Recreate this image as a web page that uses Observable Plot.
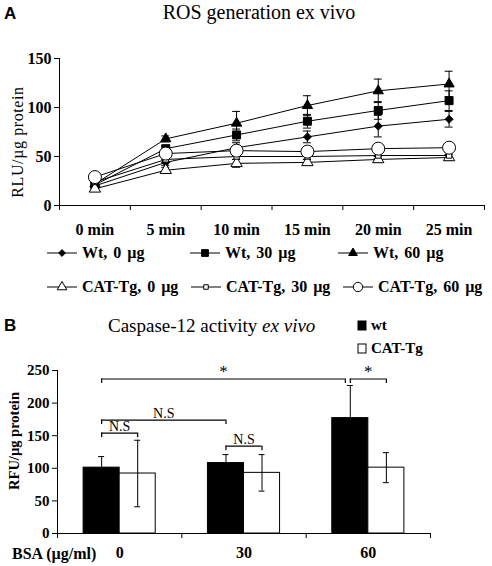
<!DOCTYPE html>
<html><head><meta charset="utf-8">
<script src="https://cdn.jsdelivr.net/npm/d3@7"></script>
<script src="https://cdn.jsdelivr.net/npm/@observablehq/plot@0.6"></script>
<style>
body{margin:0;background:#fff}
#root{position:relative;width:492px;height:566px;overflow:hidden;font-family:"Liberation Serif","Times New Roman",serif;color:#000}
.abs{position:absolute;white-space:pre;line-height:1}
.vc{transform:translateY(-50%)}
.rot{transform:translate(-50%,-50%) rotate(-90deg)}
svg.plt{position:absolute;left:0;overflow:visible;font-family:"Liberation Serif",serif}
svg.plt text{font-family:"Liberation Serif",serif}
.lg{position:absolute;display:flex;align-items:center;font-weight:bold;font-size:16px;white-space:pre;word-spacing:2px;transform:translateY(-50%)}
.lg svg{display:block;margin-right:3px}
</style></head><body><div id="root"></div>
<script>
// ---------- Panel A data ----------
const timeLabels = ["0 min","5 min","10 min","15 min","20 min","25 min"];
const seriesNames = ["Wt, 0 µg","Wt, 30 µg","Wt, 60 µg","CAT-Tg, 0 µg","CAT-Tg, 30 µg","CAT-Tg, 60 µg"];
const wt0Mean   = [20, 44, 59, 70, 81, 88];
const wt0Err    = [2, 3, 5, 6, 11, 8];
const wt30Mean  = [21, 58, 72, 86, 97, 107];
const wt30Err   = [2, 3, 6, 7, 9, 10];
const wt60Mean  = [22, 68, 84, 102, 117, 124];
const wt60Err   = [2, 3, 12, 10, 12, 13];
const cat0Mean  = [17, 36, 43, 44, 47, 49];
const cat0Err   = [2, 3, 4, 3, 3, 3];
const cat30Mean = [24, 47, 50, 50, 51, 51];
const cat30Err  = [2, 3, 3, 3, 3, 3];
const cat60Mean = [29, 53, 56, 55, 58, 59];
const cat60Err  = [2, 3, 3, 3, 3, 3];
const yTicksA = [0, 50, 100, 150];

// ---------- Panel B data ----------
const bsaLevels = ["0", "30", "60"];
const groupNames = ["wt", "CAT-Tg"];
const wtMeans  = [101, 108, 177];
const wtErrs   = [17, 13, 50];
const catMeans = [92, 93, 101];
const catErrs  = [51, 28, 23];
const yTicksB = [0, 50, 100, 150, 200, 250];
const sigLabels = ["*", "*", "N.S", "N.S", "N.S"];
const sigFrom   = [[0,"wt"],[2,"wt"],[0,"wt"],[0,"wt"],[1,"wt"]];
const sigTo     = [[2,"wt"],[2,"CAT-Tg"],[1,"wt"],[0,"CAT-Tg"],[1,"CAT-Tg"]];
const sigLevel  = [237, 237, 174, 154, 134];

// ---------- styles (not data) ----------
const seriesStyle = [
  {symbol:"diamond2", r:3.6, fill:"#000"},
  {symbol:"square",   r:4.5, fill:"#000"},
  {symbol:"triangle", r:3.8, fill:"#000"},
  {symbol:"triangle", r:4.2, fill:"#fff"},
  {symbol:"square",   r:3.0, fill:"#fff"},
  {symbol:"circle",   r:6.5, fill:"#fff"}
];
const barFill = {"wt":"#000", "CAT-Tg":"#fff"};

const root = document.getElementById("root");
function addText(txt, left, top, css, cls="abs vc") {
  const d = document.createElement("div");
  d.className = cls; d.textContent = txt;
  d.style.left = left + "px"; d.style.top = top + "px";
  Object.assign(d.style, css || {});
  root.appendChild(d); return d;
}

// ================= Panel A =================
const means = [wt0Mean, wt30Mean, wt60Mean, cat0Mean, cat30Mean, cat60Mean];
const errs = [wt0Err, wt30Err, wt60Err, cat0Err, cat30Err, cat60Err];
const rowsA = seriesNames.flatMap((s, k) => timeLabels.map((t, i) => ({s, k, t: i, v: means[k][i], e: errs[k][i]})));
const nT = timeLabels.length;
const capA = 0.056;

const plotA = Plot.plot({
  width: 492, height: 205,
  marginLeft: 59, marginRight: 8, marginTop: 18, marginBottom: 40,
  x: {domain: [-0.5, nT - 0.5]},
  y: {domain: [yTicksA[0], yTicksA[yTicksA.length - 1]]},
  style: {fontFamily: "'Liberation Serif', serif", fontSize: "16px", color: "#000", background: "transparent"},
  marks: [
    Plot.ruleX([-0.5], {y1: yTicksA[0], y2: yTicksA[yTicksA.length - 1], stroke: "#000"}),
    Plot.ruleY([0], {stroke: "#000"}),
    Plot.axisY({ticks: yTicksA, tickSize: 5, tickPadding: 3, fontWeight: "bold", fontSize: 16, label: null}),
    Plot.axisX({ticks: d3.range(nT + 1).map(i => i - 0.5), tickSize: 5, tickFormat: () => "", label: null}),
    Plot.axisX({ticks: d3.range(nT), tickSize: 0, tickPadding: 18, tickFormat: i => timeLabels[i], fontWeight: "bold", fontSize: 16, label: null}),
    Plot.line(rowsA, {x: "t", y: "v", z: "s", stroke: "#000", strokeWidth: 1}),
    Plot.ruleX(rowsA, {x: "t", y1: d => d.v - d.e, y2: d => d.v + d.e, stroke: "#000", strokeWidth: 1}),
    Plot.ruleY(rowsA, {y: d => d.v + d.e, x1: d => d.t - capA, x2: d => d.t + capA, stroke: "#000"}),
    Plot.ruleY(rowsA, {y: d => d.v - d.e, x1: d => d.t - capA, x2: d => d.t + capA, stroke: "#000"}),
    ...seriesNames.map((s, k) => Plot.dot(rowsA.filter(d => d.k === k), {
      x: "t", y: "v", symbol: seriesStyle[k].symbol, r: seriesStyle[k].r,
      fill: seriesStyle[k].fill, stroke: "#000", strokeWidth: 1
    }))
  ]
});
plotA.classList.add("plt"); plotA.style.top = "40px";
root.appendChild(plotA);

addText("A", 4, 13, {fontFamily: "'Liberation Sans', Arial, sans-serif", fontWeight: "bold", fontSize: "17px"});
addText("ROS generation ex vivo", 259, 12, {fontSize: "20px", transform: "translate(-50%,-50%)"}, "abs");
addText("RLU/µg protein", 18, 142, {fontSize: "16px", letterSpacing: "0.6px"}, "abs rot");

// legend A
const legendPos = [[47, 253], [190, 253], [338, 253], [47, 287], [191, 287], [343, 287]];
seriesNames.forEach((s, k) => {
  const st = seriesStyle[k];
  const item = document.createElement("div");
  item.className = "lg";
  item.style.left = legendPos[k][0] + "px"; item.style.top = legendPos[k][1] + "px";
  const sw = d3.create("svg").attr("width", 32).attr("height", 16);
  sw.append("line").attr("x1", 0).attr("x2", 30).attr("y1", 8).attr("y2", 8).attr("stroke", "#000");
  const sym = {diamond2: d3.symbolDiamond2, square: d3.symbolSquare, triangle: d3.symbolTriangle, circle: d3.symbolCircle}[st.symbol];
  const sz = Math.PI * Math.pow(st.r * (st.symbol === "circle" ? 0.72 : 0.85), 2);
  sw.append("path").attr("d", d3.symbol(sym, sz)()).attr("transform", "translate(15,8)")
    .attr("fill", st.fill).attr("stroke", "#000");
  item.appendChild(sw.node());
  const tx = document.createElement("span"); tx.textContent = s;
  item.appendChild(tx);
  root.appendChild(item);
});

// ================= Panel B =================
const bw = 0.29, capB = 0.024, drop = 7;
const rowsB = bsaLevels.flatMap((b, i) => [
  {g: i, s: "wt", v: wtMeans[i], e: wtErrs[i]},
  {g: i, s: "CAT-Tg", v: catMeans[i], e: catErrs[i]}
]);
const left = d => d.g + (d.s === "wt" ? -bw : 0);
const center = (g, s) => g + (s === "wt" ? -bw / 2 : bw / 2);
const brackets = sigLabels.map((label, i) => ({
  label, y: sigLevel[i],
  xa: center(...sigFrom[i]),
  xb: center(...sigTo[i]) - (i === 0 ? 0.04 : 0)
}));

const plotB = Plot.plot({
  width: 492, height: 212,
  marginLeft: 57, marginRight: 62, marginTop: 15, marginBottom: 34,
  x: {domain: [-0.5, bsaLevels.length - 0.5]},
  y: {domain: [yTicksB[0], yTicksB[yTicksB.length - 1]]},
  style: {fontFamily: "'Liberation Serif', serif", fontSize: "15px", color: "#000", background: "transparent"},
  marks: [
    Plot.rect(rowsB, {x1: left, x2: d => left(d) + bw, y1: 0, y2: "v", fill: d => barFill[d.s], stroke: "#000", strokeWidth: 1}),
    Plot.ruleX(rowsB, {x: d => center(d.g, d.s), y1: d => d.v - d.e, y2: d => d.v + d.e, stroke: "#000"}),
    Plot.ruleY(rowsB, {y: d => d.v + d.e, x1: d => center(d.g, d.s) - capB, x2: d => center(d.g, d.s) + capB, stroke: "#000"}),
    Plot.ruleY(rowsB, {y: d => d.v - d.e, x1: d => center(d.g, d.s) - capB, x2: d => center(d.g, d.s) + capB, stroke: "#000"}),
    Plot.ruleY(brackets, {y: "y", x1: "xa", x2: "xb", stroke: "#000", strokeWidth: 1.2}),
    Plot.ruleX(brackets, {x: "xa", y1: d => d.y - drop, y2: "y", stroke: "#000", strokeWidth: 1.2}),
    Plot.ruleX(brackets, {x: "xb", y1: d => d.y - drop, y2: "y", stroke: "#000", strokeWidth: 1.2}),
    Plot.text(brackets, {x: d => (d.xa + d.xb) / 2, y: "y", text: "label", lineAnchor: "bottom", dy: -2,
      fontSize: d => d.label === "*" ? 17 : 14, fontWeight: d => d.label === "*" ? "bold" : "normal"}),
    Plot.ruleX([-0.5], {y1: yTicksB[0], y2: yTicksB[yTicksB.length - 1], stroke: "#000"}),
    Plot.ruleY([0], {stroke: "#000"}),
    Plot.axisY({ticks: yTicksB, tickSize: 5, tickPadding: 3, fontWeight: "bold", fontSize: 15, label: null}),
    Plot.axisX({ticks: d3.range(bsaLevels.length + 1).map(i => i - 0.5), tickSize: 5, tickFormat: () => "", label: null}),
    Plot.axisX({ticks: d3.range(bsaLevels.length), tickSize: 0, tickPadding: 13, tickFormat: i => bsaLevels[i], fontWeight: "bold", fontSize: 16, label: null})
  ]
});
plotB.classList.add("plt"); plotB.style.top = "355px";
root.appendChild(plotB);

addText("B", 4, 325, {fontFamily: "'Liberation Sans', Arial, sans-serif", fontWeight: "bold", fontSize: "17px"});
const tB = addText("", 108, 325, {fontSize: "19px"});
tB.innerHTML = "Caspase-12 activity <i>ex vivo</i>";
addText("RFU/µg protein", 14, 441, {fontSize: "14.5px", fontWeight: "bold"}, "abs rot");
addText("BSA (µg/ml)", 12, 554, {fontSize: "16px", fontWeight: "bold"});

// legend B
groupNames.forEach((g, i) => {
  const item = document.createElement("div");
  item.className = "lg";
  item.style.left = "357px"; item.style.top = (325 + i * 23) + "px"; item.style.fontSize = "15px";
  const sw = d3.create("svg").attr("width", 11).attr("height", 12);
  sw.append("rect").attr("x", 1).attr("y", 1.5).attr("width", 8).attr("height", 9)
    .attr("fill", barFill[g]).attr("stroke", "#000");
  item.appendChild(sw.node());
  const tx = document.createElement("span"); tx.textContent = g; item.appendChild(tx);
  root.appendChild(item);
});
</script></body></html>
